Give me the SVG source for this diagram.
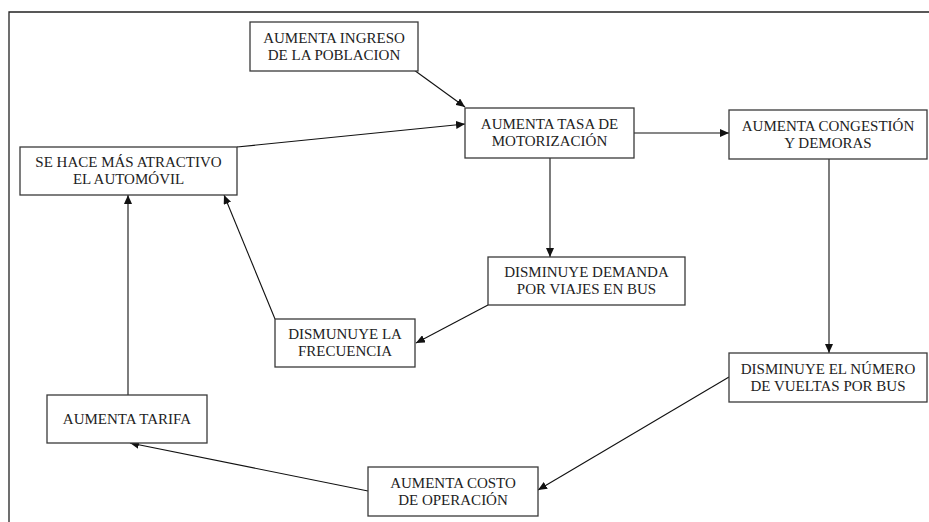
<svg xmlns="http://www.w3.org/2000/svg" width="929" height="522" viewBox="0 0 929 522">
<style>
.box{fill:#fff;stroke:#3a3a3a;stroke-width:1.3}
.t{font-family:"Liberation Serif","Times New Roman",serif;font-size:15px;fill:#222;text-anchor:middle}
.c{stroke:#111;stroke-width:1.1;fill:none;marker-end:url(#ah)}
</style>
<defs>
<marker id="ah" markerUnits="userSpaceOnUse" markerWidth="10" markerHeight="8" refX="9" refY="4" orient="auto">
<path d="M0,0 L9,4 L0,8 Z" fill="#111"/>
</marker>
</defs>
<rect width="929" height="522" fill="#fff"/>
<path d="M9,522 V12 H929" fill="none" stroke="#222" stroke-width="1.3"/>
<g id="connectors">
<line class="c" x1="414" y1="70" x2="465" y2="107"/>
<line class="c" x1="237" y1="147" x2="465" y2="124"/>
<line class="c" x1="634" y1="133" x2="729" y2="133"/>
<line class="c" x1="550" y1="158" x2="550" y2="257"/>
<line class="c" x1="829" y1="159" x2="829" y2="353"/>
<line class="c" x1="488" y1="305" x2="416" y2="343"/>
<line class="c" x1="275" y1="319" x2="224" y2="195"/>
<line class="c" x1="729" y1="377" x2="538" y2="490"/>
<line class="c" x1="368" y1="491" x2="130" y2="443"/>
<line class="c" x1="128" y1="395" x2="128" y2="195"/>
</g>
<g id="ingreso">
<rect class="box" x="250" y="22" width="168" height="49"/>
<text class="t" x="334" y="43">AUMENTA INGRESO</text>
<text class="t" x="334" y="60">DE LA POBLACION</text>
</g>
<g id="tasa">
<rect class="box" x="465" y="108" width="169" height="50"/>
<text class="t" x="549.5" y="129">AUMENTA TASA DE</text>
<text class="t" x="549.5" y="146">MOTORIZACIÓN</text>
</g>
<g id="congestion">
<rect class="box" x="729" y="110" width="198" height="49"/>
<text class="t" x="828" y="131">AUMENTA CONGESTIÓN</text>
<text class="t" x="828" y="148">Y DEMORAS</text>
</g>
<g id="atractivo">
<rect class="box" x="20" y="147" width="217" height="48"/>
<text class="t" x="128.5" y="167">SE HACE MÁS ATRACTIVO</text>
<text class="t" x="128.5" y="184">EL AUTOMÓVIL</text>
</g>
<g id="demanda">
<rect class="box" x="488" y="257" width="197" height="48"/>
<text class="t" x="586.5" y="277">DISMINUYE DEMANDA</text>
<text class="t" x="586.5" y="294">POR VIAJES EN BUS</text>
</g>
<g id="frecuencia">
<rect class="box" x="275" y="319" width="140" height="48"/>
<text class="t" x="345" y="339">DISMUNUYE LA</text>
<text class="t" x="345" y="356">FRECUENCIA</text>
</g>
<g id="numero">
<rect class="box" x="729" y="353" width="198" height="49"/>
<text class="t" x="828" y="374">DISMINUYE EL NÚMERO</text>
<text class="t" x="828" y="391">DE VUELTAS POR BUS</text>
</g>
<g id="tarifa">
<rect class="box" x="47" y="395" width="160" height="48"/>
<text class="t" x="127" y="424">AUMENTA TARIFA</text>
</g>
<g id="costo">
<rect class="box" x="368" y="467" width="170" height="49"/>
<text class="t" x="453" y="488">AUMENTA COSTO</text>
<text class="t" x="453" y="505">DE OPERACIÓN</text>
</g>
</svg>
